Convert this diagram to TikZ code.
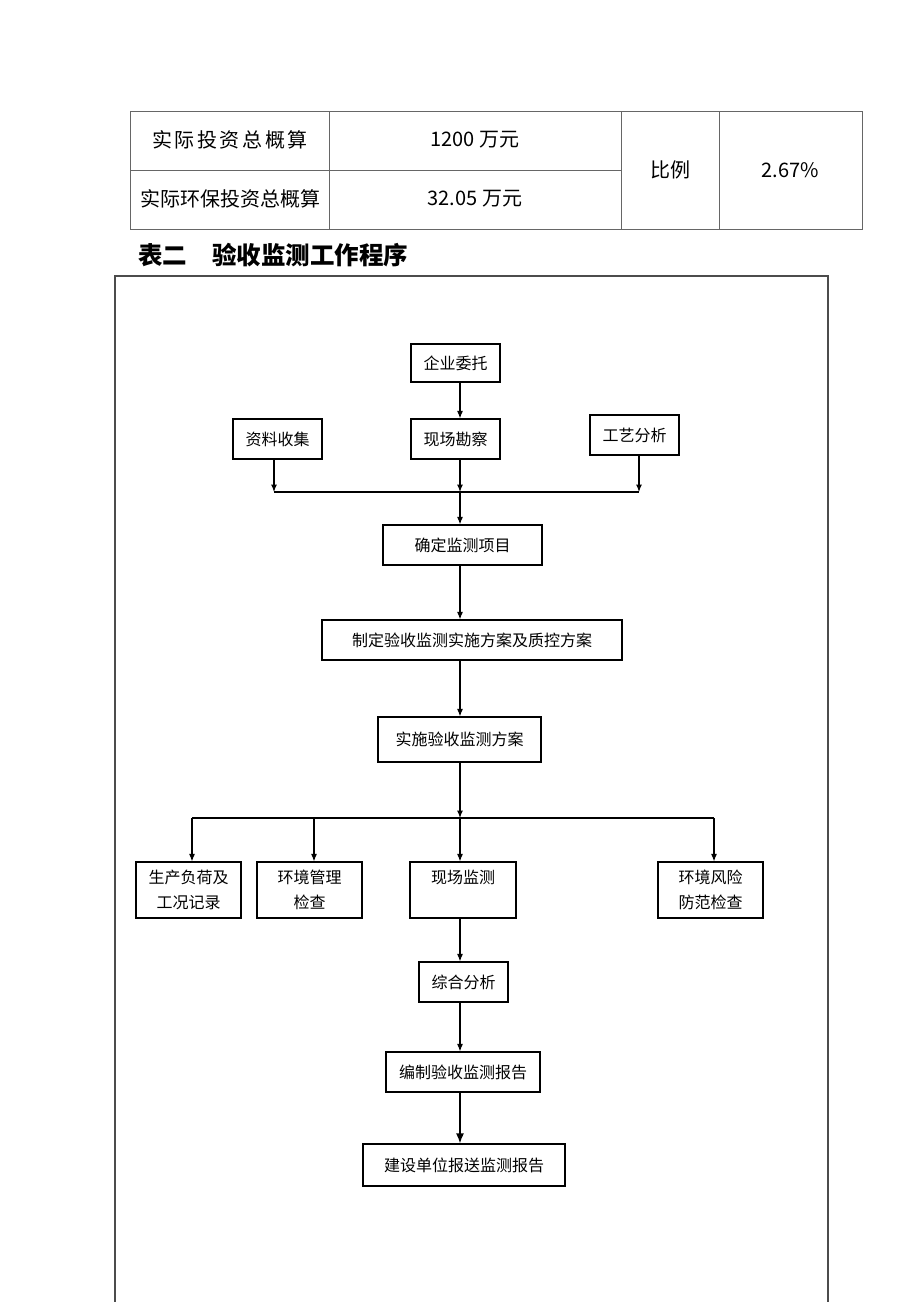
\documentclass[tikz,border=0pt]{standalone}
\usepackage{fontspec}
\newfontfamily\cjk{Noto Sans CJK SC}
\usetikzlibrary{arrows.meta,positioning}

\tikzset{
  procbox/.style={draw, line width=1.2pt, inner sep=2pt, align=center,
    font=\cjk\fontsize{16}{25}\selectfont},
  flow/.style={line width=1.1pt, -{Latex[length=7.5pt,width=6pt]}},
  busline/.style={line width=1.1pt},
  tabline/.style={line width=1pt, black!60},
  cell/.style={font=\cjk\fontsize{20}{24}\selectfont},
}

\begin{document}
\begin{tikzpicture}[x=1pt, y=-1pt]
  \useasboundingbox (0,0) rectangle (920,1302);

  % table at the top
  \draw[tabline] (130,111) rectangle (862,229);
  \draw[tabline] (130,170) -- (621,170);
  \draw[tabline] (329,111) -- (329,229);
  \draw[tabline] (621,111) -- (621,229);
  \draw[tabline] (719,111) -- (719,229);
  \node[cell] (tz)   at (230,140) {\addfontfeature{LetterSpace=13}实际投资总概算};
  \node[cell] (tzv)  at (475,140) {1200 万元};
  \node[cell] (hb)   at (230,199) {实际环保投资总概算};
  \node[cell] (hbv)  at (475,199) {32.05 万元};
  \node[cell] (bl)   at (670,170) {比例};
  \node[cell] (blv)  at (790,170) {2.67\%};

  % heading
  \node[anchor=west, inner sep=0pt, font=\cjk\bfseries\fontsize{24.5}{28}\selectfont] (title)
    at (138,255) {表二\hspace{25pt}验收监测工作程序};

  % outer frame
  \draw[line width=1.4pt, black!70] (115,1302) -- (115,276) -- (828,276) -- (828,1302);

  % boxes
  \node[procbox, minimum width=89pt, minimum height=38pt] (qywt) at (455.5,363) {企业委托};
  \node[procbox, minimum width=89pt, minimum height=40pt] (zlsj) at (277.5,439) {资料收集};
  \node[procbox, minimum width=89pt, minimum height=40pt] (xckc) at (455.5,439) {现场勘察};
  \node[procbox, minimum width=89pt, minimum height=40pt] (gyfx) at (634.5,435) {工艺分析};
  \node[procbox, minimum width=159pt, minimum height=40pt] (qdxm) at (462.5,545) {确定监测项目};
  \node[procbox, minimum width=300pt, minimum height=40pt] (zdfa) at (472,640) {制定验收监测实施方案及质控方案};
  \node[procbox, minimum width=163pt, minimum height=45pt] (ssfa) at (459.5,739.5) {实施验收监测方案};
  \node[procbox, minimum width=105pt, minimum height=56pt] (scfh) at (188.5,890) {生产负荷及\\工况记录};
  \node[procbox, minimum width=105pt, minimum height=56pt] (hjgl) at (309.5,890) {环境管理\\检查};
  \node[procbox, minimum width=106pt, minimum height=56pt] (xcjc) at (463,890) {现场监测\\[0pt]\phantom{现}};
  \node[procbox, minimum width=105pt, minimum height=56pt] (hjfx) at (710.5,890) {环境风险\\防范检查};
  \node[procbox, minimum width=89pt, minimum height=40pt] (zhfx) at (463.5,982) {综合分析};
  \node[procbox, minimum width=154pt, minimum height=40pt] (bzbg) at (463,1072) {编制验收监测报告};
  \node[procbox, minimum width=202pt, minimum height=42pt] (jsbg) at (464,1165) {建设单位报送监测报告};

  % spine and bus points
  \coordinate (spine) at (460,0);
  \coordinate (bus1)  at (460,492);
  \coordinate (bus1l) at (274,492);
  \coordinate (bus1r) at (639,492);
  \coordinate (bus2)  at (460,818);
  \coordinate (bus2l) at (192,818);
  \coordinate (bus2b) at (314,818);
  \coordinate (bus2r) at (714,818);

  % connectors
  \draw[flow] (qywt.south -| spine) -- (xckc.north -| spine);
  \draw[busline] (bus1l) -- (bus1r);
  \draw[flow] (zlsj.south -| bus1l) -- (bus1l);
  \draw[flow] (xckc.south -| spine) -- (bus1);
  \draw[flow] (gyfx.south -| bus1r) -- (bus1r);
  \draw[flow] (bus1) -- (qdxm.north -| spine);
  \draw[flow] (qdxm.south -| spine) -- (zdfa.north -| spine);
  \draw[flow] (zdfa.south -| spine) -- (ssfa.north -| spine);
  \draw[flow] (ssfa.south -| spine) -- (bus2);
  \draw[busline] (bus2l) -- (bus2r);
  \draw[flow] (bus2l) -- (scfh.north -| bus2l);
  \draw[flow] (bus2b) -- (hjgl.north -| bus2b);
  \draw[flow] (bus2) -- (xcjc.north -| spine);
  \draw[flow] (bus2r) -- (hjfx.north -| bus2r);
  \draw[flow] (xcjc.south -| spine) -- (zhfx.north -| spine);
  \draw[flow] (zhfx.south -| spine) -- (bzbg.north -| spine);
  \draw[line width=1.4pt, -{Latex[length=10pt,width=8pt]}] (bzbg.south -| spine) -- (jsbg.north -| spine);
\end{tikzpicture}
\end{document}
